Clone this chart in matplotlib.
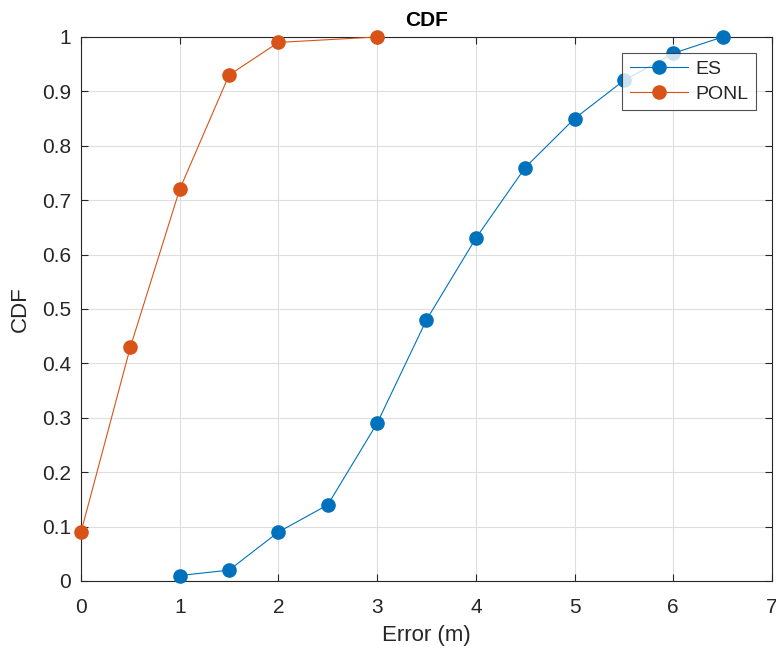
import matplotlib.pyplot as plt

# error values (m) and CDF values
es_x = [1, 1.5, 2, 2.5, 3, 3.5, 4, 4.5, 5, 5.5, 6, 6.5]
es_y = [0.01, 0.02, 0.09, 0.14, 0.29, 0.48, 0.63, 0.76, 0.85, 0.92, 0.97, 1.0]
ponl_x = [0, 0.5, 1, 1.5, 2, 3]
ponl_y = [0.09, 0.43, 0.72, 0.93, 0.99, 1.0]

x_ticks = [0, 1, 2, 3, 4, 5, 6, 7]
y_ticks = [0, 0.1, 0.2, 0.3, 0.4, 0.5, 0.6, 0.7, 0.8, 0.9, 1]
y_labels = ['0', '0.1', '0.2', '0.3', '0.4', '0.5', '0.6', '0.7', '0.8', '0.9', '1']

plt.rcParams['font.family'] = ['Liberation Sans', 'DejaVu Sans']
axcol = '#262626'

fig = plt.figure(figsize=(7.76, 6.52), dpi=100)
ax = fig.add_axes([0.1044, 0.1089, 0.8904, 0.8344])

ax.plot(es_x, es_y, '-o', color='#0072BD', lw=0.8, ms=9.5, label='ES', clip_on=False, zorder=3)
ax.plot(ponl_x, ponl_y, '-o', color='#D95319', lw=0.8, ms=9.5, label='PONL', clip_on=False, zorder=3)

ax.set_xlim(0, 7)
ax.set_ylim(0, 1)
ax.set_xticks(x_ticks)
ax.set_yticks(y_ticks)
ax.set_yticklabels(y_labels)
ax.grid(True, color='#dedede', lw=0.8)
ax.set_axisbelow(True)
ax.tick_params(direction='in', top=True, right=True, labelsize=15, colors=axcol, length=5, width=0.8)
ax.tick_params(axis='x', pad=12)
ax.tick_params(axis='y', pad=7)
for s in ax.spines.values():
    s.set_color(axcol)
    s.set_linewidth(0.8)

ax.set_xlabel('Error (m)', fontsize=16, color=axcol, labelpad=6)
ax.set_ylabel('CDF', fontsize=16, color=axcol, labelpad=8)
ax.set_title('CDF', fontsize=15, fontweight='bold', color='black', pad=8)

leg = ax.legend(loc='upper right', bbox_to_anchor=(0.977, 0.971), borderaxespad=0, fontsize=14,
                frameon=True, fancybox=False, edgecolor=axcol, handlelength=3.0, borderpad=0.4,
                labelspacing=0.35, handletextpad=0.35)
leg.get_frame().set_linewidth(0.8)
for t in leg.get_texts():
    t.set_color(axcol)

fig.savefig('out.png', dpi=100)
